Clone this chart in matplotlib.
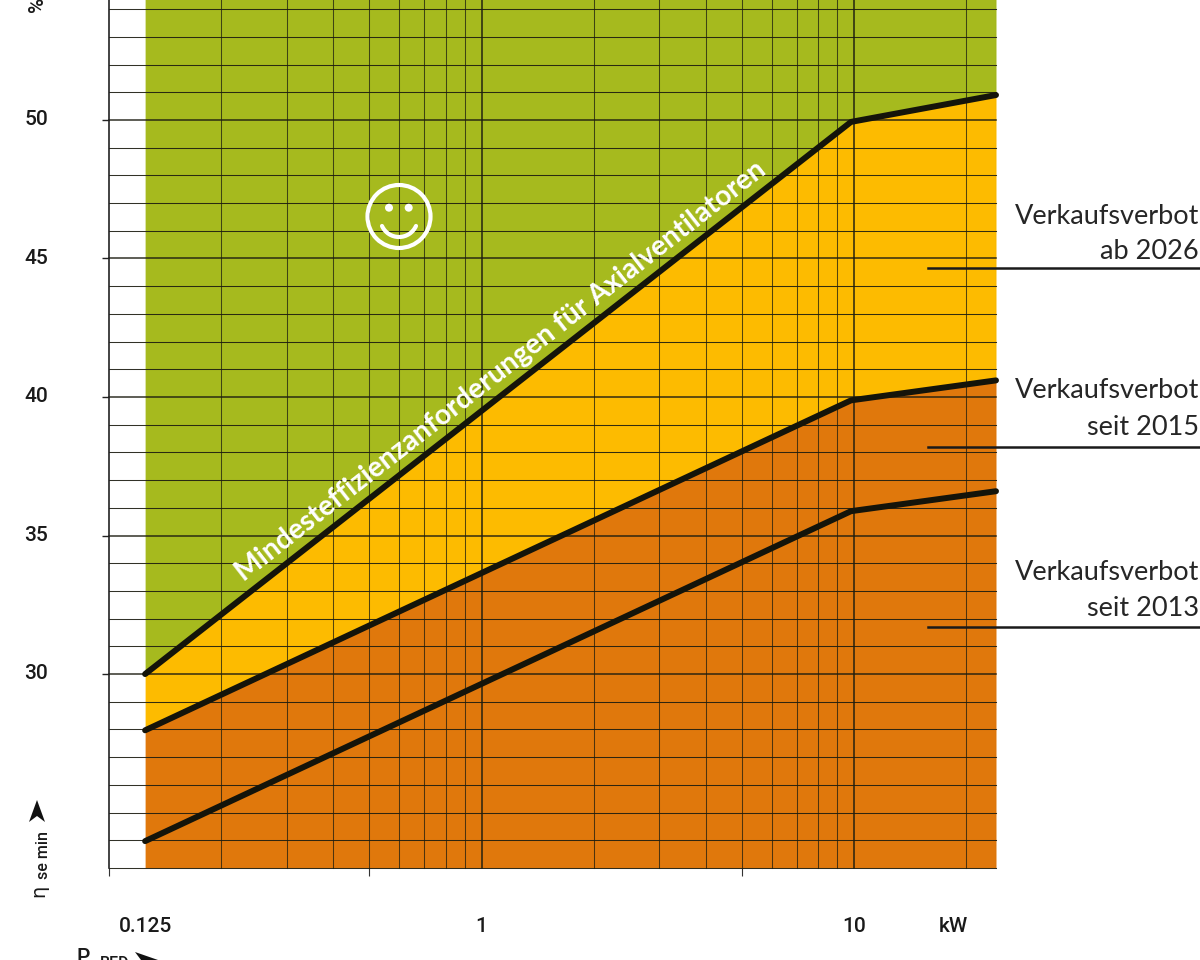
import matplotlib
matplotlib.use("Agg")
import matplotlib.pyplot as plt
from matplotlib.patches import Circle, Arc, Polygon
from matplotlib.ticker import NullFormatter
from matplotlib.transforms import ScaledTranslation

# ---- data ----
power_kw = [0.125, 9.8, 24]
limit_2026 = [30.0, 49.93, 50.9]
limit_2015 = [27.97, 39.88, 40.6]
limit_2013 = [23.97, 35.88, 36.6]

y_major = [30, 35, 40, 45, 50]
y_grid = list(range(23, 55))
x_grid = [0.2, 0.3, 0.4, 0.5, 0.6, 0.7, 0.8, 0.9, 1, 2, 3, 4, 5, 6, 7, 8, 9, 10, 20, 24]
x_marks = [0.1, 0.5, 1, 5, 10]
x_label_pos = [0.125, 1, 10, 18.4]
x_labels = ["0.125", "1", "10", "kW"]

band_labels = [
    ("Verkaufsverbot", "ab 2026", 44.64),
    ("Verkaufsverbot", "seit 2015", 38.2),
    ("Verkaufsverbot", "seit 2013", 31.7),
]
main_label = "Mindesteffizienzanforderungen für Axialventilatoren"

GREEN, YELLOW, ORANGE = "#A6BA1E", "#FDBB00", "#E0780C"
INK = "#14140a"
NARROW = "Roboto"

fig = plt.figure(figsize=(12, 9.6), dpi=100)
ax = fig.add_axes([109 / 1200, (960 - 868) / 960, (996 - 109) / 1200, 868 / 960])
ax.set_xscale("log")
ax.set_xlim(0.1, 24)
ax.set_ylim(23, 54.33)

# colour bands
ax.fill_between(power_kw, limit_2026, 56, color=GREEN, lw=0, zorder=1)
ax.fill_between(power_kw, limit_2015, limit_2026, color=YELLOW, lw=0, zorder=1)
ax.fill_between(power_kw, 23, limit_2015, color=ORANGE, lw=0, zorder=1)

# grid
for v in y_grid:
    ax.axhline(v, color="#1c1c10", lw=1.1 if v in y_major else 0.75, alpha=0.9,
               clip_on=False, zorder=2)
for v in x_grid:
    strong = v in (1, 10)
    ax.plot([v, v], [23, 56], color="#1c1c10", lw=1.1 if strong else 0.75,
            alpha=0.95 if strong else 0.75, zorder=2, clip_on=v == 24)

# limit lines
for series in (limit_2026, limit_2015, limit_2013):
    ax.plot(power_kw, series, color=INK, lw=4.3, solid_capstyle="round",
            solid_joinstyle="round", clip_on=False, zorder=4)

# axes furniture
for s in ("top", "right", "bottom"):
    ax.spines[s].set_visible(False)
ax.spines["left"].set_linewidth(1.2)
ax.spines["left"].set_color("#222222")

ax.set_xticks(x_label_pos, x_labels)
ax.set_xticks(x_marks, minor=True)
ax.xaxis.set_minor_formatter(NullFormatter())
ax.tick_params(axis="x", which="major", length=0, pad=35.5)
ax.tick_params(axis="x", which="minor", length=5.5, width=0.8, color="#333333")
ax.set_yticks(y_major, [str(v) for v in y_major])
ax.set_yticks([], minor=True)
ax.tick_params(axis="y", which="major", length=5, width=1.0, color="#222222", pad=39)
up = ScaledTranslation(0, 1.5 / 72, fig.dpi_scale_trans)
for lab in ax.get_yticklabels():
    lab.set_transform(lab.get_transform() + up)
for lab in ax.get_xticklabels() + ax.get_yticklabels():
    lab.set_fontfamily(NARROW)
    lab.set_fontweight("medium")
    lab.set_fontsize(15)
    lab.set_color("#1a1a1a")

# band leader lines and labels
for first, second, y in band_labels:
    ax.plot([15.8, 85], [y, y], color="#1a1a1a", lw=1.8, clip_on=False, zorder=3)

# pixel overlay for annotations
ov = fig.add_axes([0, 0, 1, 1], facecolor="none")
ov.set_xlim(0, 1200)
ov.set_ylim(960, 0)
ov.axis("off")

label_baselines = [(224, 259), (398, 435), (580, 616)]
for (first, second, _), (b1, b2) in zip(band_labels, label_baselines):
    for txt, b in ((first, b1), (second, b2)):
        ov.text(1199, b, txt, ha="right", va="baseline", fontsize=19.5,
                family="Lato", fontweight="regular", color="#262626")

ov.text(501, 371, main_label, rotation=38, rotation_mode="anchor", ha="center",
        va="center", color="white", fontsize=20.3, family="Lato", fontweight="bold", zorder=6)

# smiley
ov.add_patch(Circle((399, 216.5), 31.5, fill=False, ec="white", lw=3))
for ex in (389, 408.7):
    ov.add_patch(Circle((ex, 207.7), 4, fc="white", ec="none"))
smile = Arc((399, 218.4), 37.2, 37.2, theta1=24, theta2=156, color="white", lw=3)
smile.set_capstyle("round")
ov.add_patch(smile)

# axis captions
ov.add_patch(Polygon([(37, 800), (45, 822), (37, 816), (29, 822)], fc="#111111", ec="none"))
ov.text(39, 897, "η", rotation=90, ha="center", va="bottom", fontsize=14,
        family="DejaVu Sans", color="#1a1a1a")
ov.text(43, 879, "se min", rotation=90, ha="center", va="bottom", fontsize=11.5,
        family=NARROW, fontweight="medium", color="#1a1a1a")
ov.text(38, 12, "%", rotation=90, ha="center", va="bottom", fontsize=15,
        family=NARROW, fontweight="medium", color="#1a1a1a")
ov.text(83, 963, "P", ha="center", va="baseline", fontsize=15, family=NARROW,
        fontweight="medium", color="#1a1a1a")
ov.text(100, 968, "BED", ha="left", va="baseline", fontsize=11.5, family=NARROW,
        fontweight="medium", color="#1a1a1a")
ov.add_patch(Polygon([(158, 960), (135, 952), (141, 960), (135, 968)], fc="#111111", ec="none"))

fig.savefig("out.png", dpi=100)
